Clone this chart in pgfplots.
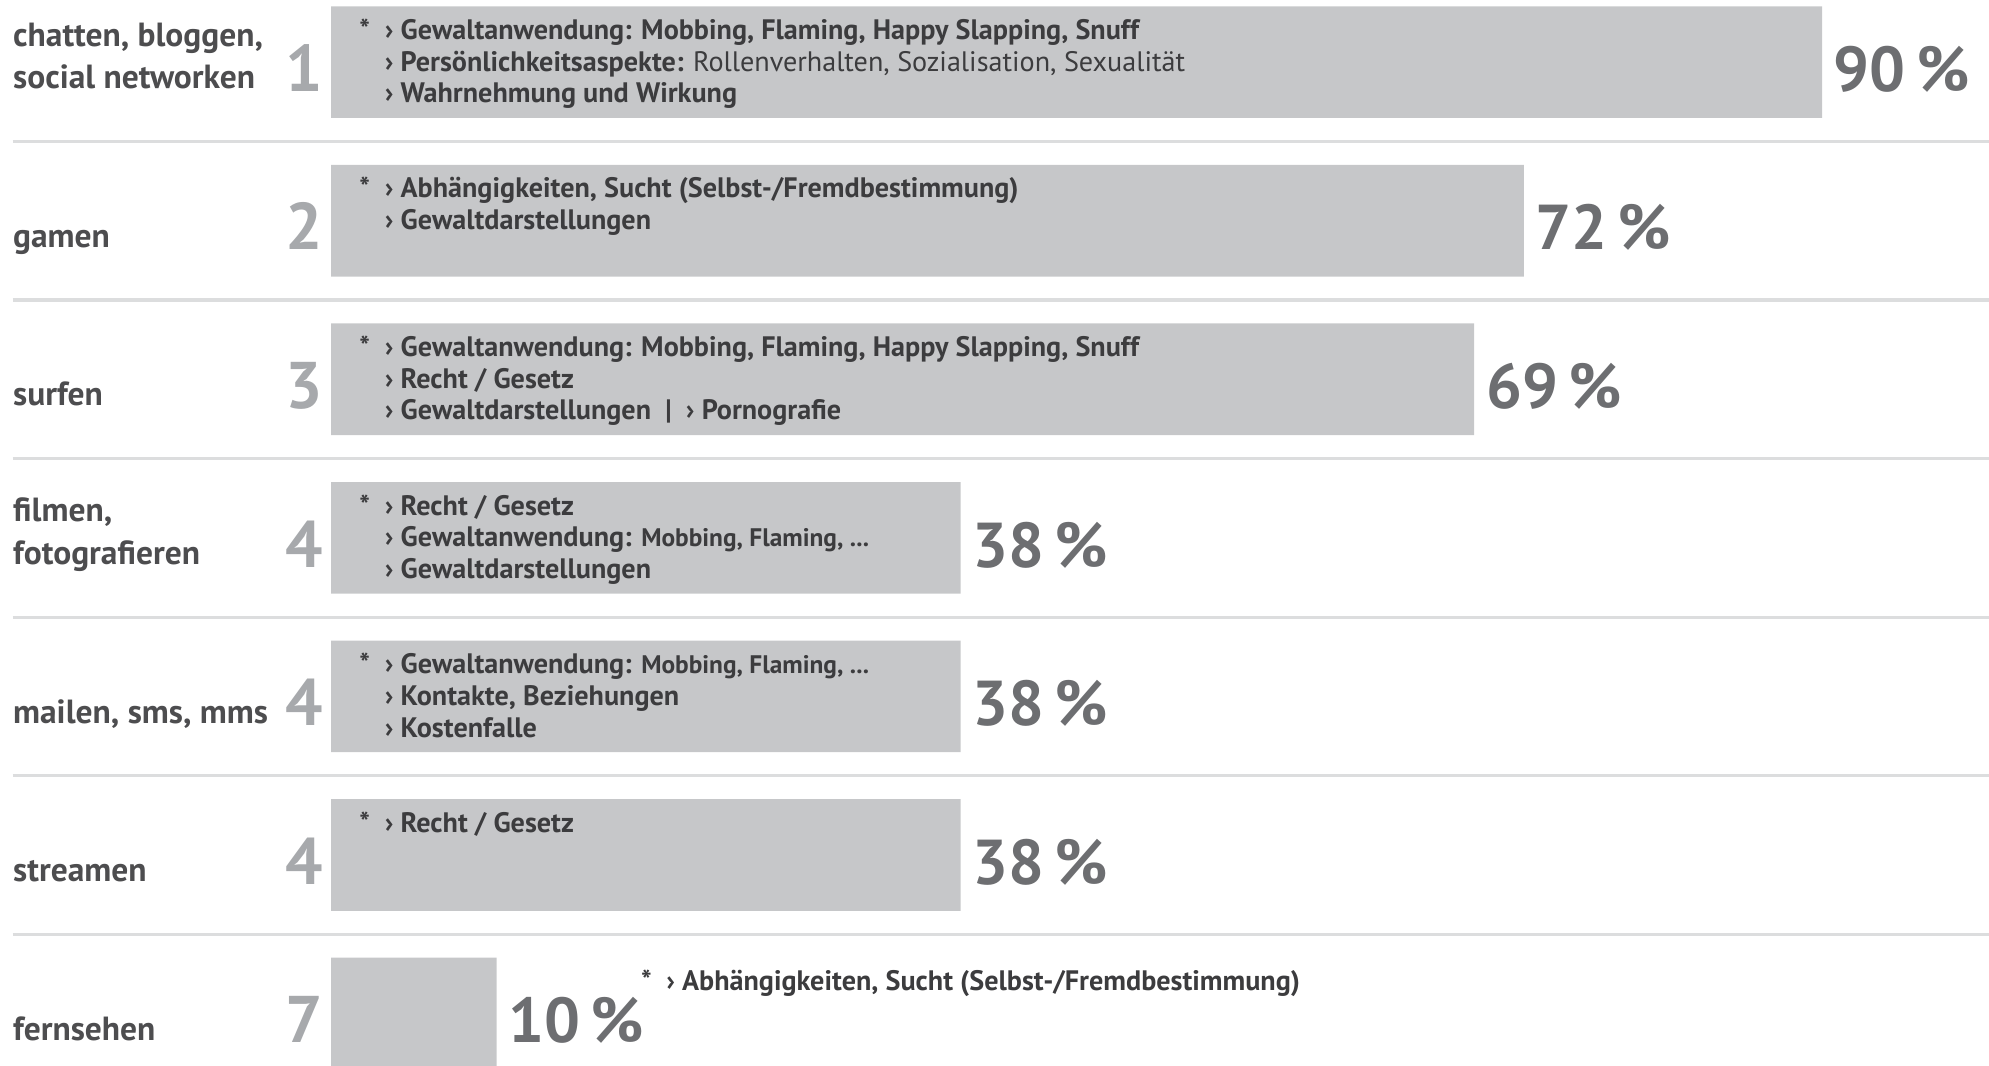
\documentclass[border=0pt]{standalone}
\usepackage{pgfplots}
\pgfplotsset{compat=1.18}
\usepackage{fontspec}
\setmainfont{PT Sans}
\definecolor{barc}{HTML}{C6C7C9}
\definecolor{sepc}{HTML}{DCDDDE}
\definecolor{rankc}{HTML}{A7A9AC}
\definecolor{pctc}{HTML}{6D6E71}
\definecolor{txtc}{HTML}{3C3C3E}
\definecolor{catc}{HTML}{4D4D4F}
\newcommand{\bt}{\fontsize{11.1}{13}\selectfont\bfseries}
\newcommand{\ct}{\fontsize{13.2}{15}\selectfont\bfseries}
\newcommand{\rt}{\fontsize{26}{26}\selectfont\bfseries}
\begin{document}
\begin{tikzpicture}
\begin{axis}[
  width=784pt, height=420pt, scale only axis,
  xmin=-19.985, xmax=100.08, ymin=0.608, ymax=7.328, y dir=reverse,
  hide axis, xbar, bar width=0.704,
  point meta=x,
  /pgf/number format/assume math mode=true,
  nodes near coords={\pgfmathprintnumber{\pgfplotspointmeta}\kern4pt\%},
  nodes near coords style={anchor=base west, xshift=4.5pt, yshift=-11.5pt,
     font=\fontsize{25}{25}\selectfont\bfseries, text=pctc, inner sep=0pt},
]
% separators
\draw[sepc, line width=1.2pt] (axis cs:-19.22,1.5) -- (axis cs:100.08,1.5);
\draw[sepc, line width=1.2pt] (axis cs:-19.22,2.5) -- (axis cs:100.08,2.5);
\draw[sepc, line width=1.2pt] (axis cs:-19.22,3.5) -- (axis cs:100.08,3.5);
\draw[sepc, line width=1.2pt] (axis cs:-19.22,4.5) -- (axis cs:100.08,4.5);
\draw[sepc, line width=1.2pt] (axis cs:-19.22,5.5) -- (axis cs:100.08,5.5);
\draw[sepc, line width=1.2pt] (axis cs:-19.22,6.5) -- (axis cs:100.08,6.5);

\addplot[fill=barc, draw=none] coordinates {(90,1) (72,2) (69,3) (38,4) (38,5) (38,6) (10,7)};

% category labels
\begin{scope}[every node/.style={anchor=base west, inner sep=0pt, text=catc, font=\ct}]
\node at (axis cs:-19.22,0.9) {chatten, bloggen,};
\node at (axis cs:-19.22,1.168) {social networken};
\node at (axis cs:-19.22,2.168) {gamen};
\node at (axis cs:-19.22,3.168) {surfen};
\node at (axis cs:-19.22,3.895) {filmen,};
\node at (axis cs:-19.22,4.168) {fotografieren};
\node at (axis cs:-19.22,5.168) {mailen, sms, mms};
\node at (axis cs:-19.22,6.168) {streamen};
\node at (axis cs:-19.22,7.168) {fernsehen};
\end{scope}

% rank numbers
\begin{scope}[every node/.style={anchor=base, inner sep=0pt, text=rankc, font=\rt}]
\node at (axis cs:-1.61,1.184) {1};
\node at (axis cs:-1.61,2.184) {2};
\node at (axis cs:-1.61,3.184) {3};
\node at (axis cs:-1.61,4.184) {4};
\node at (axis cs:-1.61,5.184) {4};
\node at (axis cs:-1.61,6.184) {4};
\node at (axis cs:-1.61,7.184) {7};
\end{scope}

% bar texts
\begin{scope}[every node/.style={anchor=base west, inner sep=0pt, text=txtc, font=\bt}]
% row 1
\node at (axis cs:1.68,0.856) {*};
\node at (axis cs:3.22,0.856) {› Gewaltanwendung: Mobbing, Flaming, Happy Slapping, Snuff};
\node at (axis cs:3.22,1.056) {› Persönlichkeitsaspekte: {\mdseries Rollenverhalten, Sozialisation, Sexualität}};
\node at (axis cs:3.22,1.256) {› Wahrnehmung und Wirkung};
% row 2
\node at (axis cs:1.68,1.856) {*};
\node at (axis cs:3.22,1.856) {› Abhängigkeiten, Sucht (Selbst-/Fremdbestimmung)};
\node at (axis cs:3.22,2.056) {› Gewaltdarstellungen};
% row 3
\node at (axis cs:1.68,2.856) {*};
\node at (axis cs:3.22,2.856) {› Gewaltanwendung: Mobbing, Flaming, Happy Slapping, Snuff};
\node at (axis cs:3.22,3.056) {› Recht / Gesetz};
\node at (axis cs:3.22,3.256) {› Gewaltdarstellungen \ | \ › Pornografie};
% row 4
\node at (axis cs:1.68,3.856) {*};
\node at (axis cs:3.22,3.856) {› Recht / Gesetz};
\node at (axis cs:3.22,4.056) {› Gewaltanwendung: {\fontsize{10}{12}\selectfont Mobbing, Flaming, ...}};
\node at (axis cs:3.22,4.256) {› Gewaltdarstellungen};
% row 5
\node at (axis cs:1.68,4.856) {*};
\node at (axis cs:3.22,4.856) {› Gewaltanwendung: {\fontsize{10}{12}\selectfont Mobbing, Flaming, ...}};
\node at (axis cs:3.22,5.056) {› Kontakte, Beziehungen};
\node at (axis cs:3.22,5.256) {› Kostenfalle};
% row 6
\node at (axis cs:1.68,5.856) {*};
\node at (axis cs:3.22,5.856) {› Recht / Gesetz};
% row 7
\node at (axis cs:18.68,6.856) {*};
\node at (axis cs:20.21,6.856) {› Abhängigkeiten, Sucht (Selbst-/Fremdbestimmung)};
\end{scope}
\end{axis}
\pgfresetboundingbox
\path[use as bounding box] (current axis.south west) rectangle (current axis.north east);
\end{tikzpicture}
\end{document}
